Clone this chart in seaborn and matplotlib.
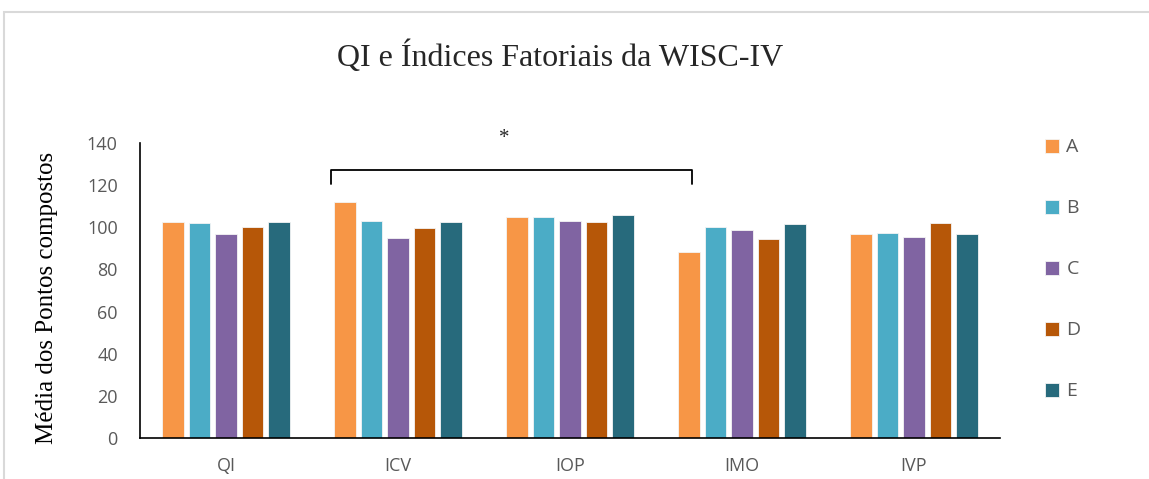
import matplotlib
matplotlib.use("Agg")
import matplotlib.pyplot as plt
import seaborn as sns
import pandas as pd
from matplotlib.patches import Rectangle

categories = ["QI", "ICV", "IOP", "IMO", "IVP"]
groups = ["A", "B", "C", "D", "E"]
values_A = [102.5, 111.9, 105.0, 88.1, 96.8]
values_B = [102.2, 103.0, 104.7, 100.3, 97.3]
values_C = [97.0, 94.9, 103.0, 98.7, 95.4]
values_D = [100.0, 99.7, 102.4, 94.3, 101.9]
values_E = [102.5, 102.5, 105.8, 101.7, 96.7]
yticks = [0, 20, 40, 60, 80, 100, 120, 140]
colors = ["#F79646", "#4BACC6", "#8064A2", "#B65708", "#276A7C"]

series = [values_A, values_B, values_C, values_D, values_E]
rows = []
for g, vals in zip(groups, series):
    for c, v in zip(categories, vals):
        rows.append({"Índice": c, "Grupo": g, "Valor": v})
df = pd.DataFrame(rows)

sns.set_theme(style="white")
plt.rcParams["font.family"] = ["Open Sans", "DejaVu Sans"]

fig = plt.figure(figsize=(11.49, 4.79), dpi=100)
ax = fig.add_axes([140/1149, 41/479, 860/1149, 295/479])

sns.barplot(data=df, x="Índice", y="Valor", hue="Grupo", palette=colors,
            order=categories, hue_order=groups, width=0.77, gap=0.2,
            saturation=1, edgecolor="#f4f4f4", linewidth=0.6, ax=ax, legend=True)

ax.set_ylim(0, 140)
ax.set_xlim(-0.5, 4.5)
ax.set_yticks(yticks)
ax.set_yticklabels([str(t) for t in yticks], fontsize=13, color="#595959")
ax.set_xticks(range(len(categories)))
ax.set_xticklabels(categories, fontsize=13, color="#595959")
ax.tick_params(axis="y", length=0, pad=16)
ax.tick_params(axis="x", length=0, pad=14)
ax.set_xlabel("")
ax.set_ylabel("Média dos Pontos compostos", family="Liberation Serif", fontsize=18,
              color="black")
ax.yaxis.set_label_coords(-82/860, 0.5 - 7/295)
for s in ["top", "right"]:
    ax.spines[s].set_visible(False)
for s in ["left", "bottom"]:
    ax.spines[s].set_color("black")
    ax.spines[s].set_linewidth(1.2)

# significance bracket
bx0, bx1, by, btick = 0.61, 2.71, 127.2, 120.5
ax.plot([bx0, bx0, bx1, bx1], [btick, by, by, btick], color="black", lw=1.3, clip_on=False)
ax.text(1.62, 142, "*", ha="center", va="center", fontsize=15,
        family="Liberation Serif", clip_on=False)

handles, labels = ax.get_legend_handles_labels()
ax.legend(handles, labels, loc="upper left", bbox_to_anchor=(1027/1149, (479-121)/479),
          bbox_transform=fig.transFigure, frameon=False, fontsize=14,
          labelspacing=2.21, handlelength=0.72, handleheight=0.72, handletextpad=0.4,
          labelcolor="#595959")

fig.text(560/1149, (479-57)/479, "QI e Índices Fatoriais da WISC-IV", ha="center", va="center",
         family="Liberation Serif", fontsize=23)

fig.patches.append(Rectangle((4/1149, -0.1), 1.2, (479-12)/479 + 0.1, transform=fig.transFigure,
                             fill=False, edgecolor="#d9d9d9", lw=1.5, zorder=0))

fig.savefig("out.png", dpi=100)
